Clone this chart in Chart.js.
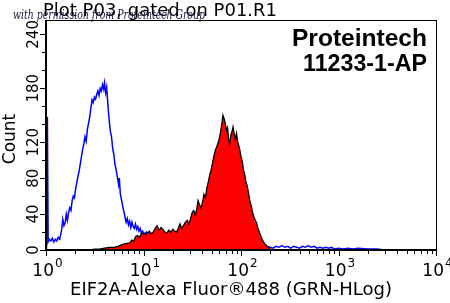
<!DOCTYPE html>
<html lang="en">
<head>
<meta charset="UTF-8">
<title>EIF2A flow histogram</title>
<style>
  html, body { margin: 0; padding: 0; background: #fff; }
  #wrap { position: relative; width: 450px; height: 303px; }
</style>
<script src="https://cdn.jsdelivr.net/npm/chart.js"></script>
</head>
<body>
<div id="wrap"><canvas id="histo"></canvas></div>
<script>
// values; x positions are in decades (log10 of intensity)
const blueDecades = [0.005, 0.014, 0.022, 0.035, 0.050, 0.065, 0.080, 0.095, 0.110, 0.125, 0.140, 0.160,
  0.172, 0.184, 0.196, 0.208, 0.220, 0.232, 0.244, 0.256, 0.268, 0.280, 0.292, 0.304, 0.316, 0.328,
  0.340, 0.352, 0.364, 0.376, 0.388, 0.400, 0.412, 0.424, 0.436, 0.448, 0.460, 0.472, 0.484, 0.496,
  0.508, 0.520, 0.532, 0.544, 0.556, 0.568, 0.580, 0.592, 0.600, 0.612, 0.622, 0.632, 0.642, 0.652,
  0.662, 0.672, 0.684, 0.696, 0.708, 0.720, 0.732, 0.744, 0.752, 0.762, 0.774, 0.786, 0.798, 0.810,
  0.822, 0.834, 0.846, 0.858, 0.870, 0.882, 0.894, 0.906, 0.918, 0.930, 0.942, 0.954, 0.966, 0.978,
  0.990, 1.010, 1.030, 1.050, 1.070, 1.090, 1.110, 1.130, 1.160, 1.190, 1.220, 1.250, 1.280, 1.320,
  1.360, 1.400, 1.450, 1.500, 1.600, 1.700, 1.800, 1.900, 2.000, 2.100, 2.200, 2.270, 2.300, 2.330,
  2.360, 2.390, 2.420, 2.450, 2.480, 2.510, 2.540, 2.570, 2.600, 2.630, 2.660, 2.690, 2.720, 2.750,
  2.780, 2.810, 2.840, 2.870, 2.900, 2.930, 2.960, 3.000, 3.050, 3.100, 3.150, 3.200, 3.300, 3.400, 3.460];
const blueCounts = [0, 148, 9, 12, 10, 13, 9, 12, 10, 14, 12, 22,
  34, 27, 30, 40, 33, 42, 47, 44, 55, 60, 58, 68, 75, 82,
  88, 96, 104, 112, 118, 126, 121, 134, 141, 148, 158, 167, 164, 170,
  168, 173, 177, 172, 180, 177, 184, 179, 186, 175, 181, 166, 152, 140,
  131, 126, 113, 106, 95, 89, 81, 73, 80, 63, 56, 49, 43, 37,
  31, 35, 28, 32, 25, 31, 26, 24, 29, 23, 26, 21, 24, 19,
  21, 18, 20, 15, 16, 13, 14, 11, 10, 8, 8, 6, 6, 5,
  4, 5, 3, 4, 3, 4, 3, 4, 3, 4, 3, 4, 3, 2,
  4, 3, 5, 3, 4, 2, 4, 3, 2, 4, 3, 5, 3, 4,
  2, 3, 2, 3, 2, 3, 1, 2, 1, 2, 1, 2, 1, 1, 0];

const redDecades = [0.450, 0.500, 0.550, 0.600, 0.650, 0.700, 0.740, 0.780, 0.820, 0.860, 0.880, 0.900,
  0.920, 0.940, 0.960, 0.980, 1.000, 1.020, 1.040, 1.060, 1.080, 1.100, 1.120, 1.140, 1.160, 1.180,
  1.200, 1.220, 1.240, 1.260, 1.280, 1.300, 1.320, 1.340, 1.360, 1.375, 1.390, 1.410, 1.430, 1.450,
  1.465, 1.480, 1.500, 1.515, 1.530, 1.545, 1.560, 1.575, 1.590, 1.605, 1.620, 1.635, 1.650, 1.665,
  1.680, 1.695, 1.710, 1.725, 1.740, 1.755, 1.770, 1.785, 1.800, 1.815, 1.828, 1.840, 1.852, 1.862,
  1.872, 1.884, 1.896, 1.908, 1.918, 1.930, 1.942, 1.954, 1.966, 1.978, 1.990, 2.002, 2.014, 2.026,
  2.038, 2.050, 2.062, 2.076, 2.090, 2.104, 2.118, 2.132, 2.146, 2.160, 2.174, 2.188, 2.202, 2.216,
  2.230, 2.244, 2.260, 2.280, 2.300, 2.320];
const redCounts = [0, 1, 1, 2, 3, 3, 4, 6, 7, 8, 11, 10,
  15, 16, 14, 19, 18, 17, 19, 21, 18, 20, 24, 27, 22, 25,
  23, 20, 19, 22, 20, 23, 21, 20, 25, 29, 24, 27, 31, 33,
  29, 34, 42, 44, 39, 45, 55, 50, 47, 53, 62, 58, 69, 76,
  84, 90, 98, 106, 112, 116, 121, 128, 138, 150, 146, 140, 133, 136,
  124, 118, 128, 132, 137, 129, 124, 130, 120, 116, 110, 103, 98, 89,
  84, 76, 72, 64, 55, 50, 42, 37, 33, 30, 24, 20, 16, 12,
  9, 7, 5, 3, 1, 0];

const xDecadeTicks = [1, 10, 100, 1000, 10000];
const xDecadeExponents = ['0', '1', '2', '3', '4'];
const yTickValues = [0, 20, 40, 60, 80, 100, 120, 140, 160, 180, 200, 220, 240];
const yLabelValues = [0, 40, 80, 120, 180, 240];
const yMax = 256;

const plotTitle = 'Plot P03, gated on P01.R1';
const watermark = 'with permission from Proteintech Group';
const brandLines = ['Proteintech', '11233-1-AP'];
const xTitle = 'EIF2A-Alexa Fluor\u00AE488 (GRN-HLog)';
const yTitle = 'Count';

function toPoints(decades, counts) {
  return decades.map((d, i) => ({ x: Math.pow(10, d), y: counts[i] }));
}

// draw text squeezed/stretched to a given width, starting at x
function fitText(ctx, str, x, y, width) {
  const w = ctx.measureText(str).width;
  ctx.save();
  ctx.translate(x, y);
  ctx.scale(width / w, 1);
  ctx.textAlign = 'left';
  ctx.fillText(str, 0, 0);
  ctx.restore();
}

const decorations = {
  id: 'decorations',
  afterDraw(chart) {
    const { ctx, chartArea: a, scales: { x, y } } = chart;
    ctx.save();
    ctx.strokeStyle = '#000';
    ctx.fillStyle = '#000';

    // thin frame, heavier left/bottom axes
    ctx.lineWidth = 1;
    ctx.strokeRect(a.left + 0.5, a.top + 0.5, a.right - a.left, a.bottom - a.top);
    ctx.lineWidth = 2;
    ctx.beginPath();
    ctx.moveTo(a.left, a.top);
    ctx.lineTo(a.left, a.bottom);
    ctx.lineTo(a.right + 1, a.bottom);
    ctx.stroke();

    // tick marks
    ctx.lineWidth = 1;
    ctx.beginPath();
    x.ticks.forEach(t => {
      const px = Math.round(x.getPixelForValue(t.value)) + 0.5;
      ctx.moveTo(px, a.bottom);
      ctx.lineTo(px, a.bottom + (t.major ? 6 : 4));
    });
    y.ticks.forEach(t => {
      const py = Math.round(y.getPixelForValue(t.value)) + 0.5;
      ctx.moveTo(a.left, py);
      ctx.lineTo(a.left - (yLabelValues.includes(t.value) ? 6 : 4), py);
    });
    ctx.stroke();

    // x tick labels: 10 with a raised exponent
    ctx.textBaseline = 'alphabetic';
    xDecadeTicks.forEach((v, i) => {
      const px = x.getPixelForValue(v);
      ctx.font = '17px "DejaVu Sans"';
      const wBase = ctx.measureText('10').width;
      ctx.font = '12px "DejaVu Sans"';
      const wExp = ctx.measureText(xDecadeExponents[i]).width;
      const left = px - (wBase + wExp) / 2 + 1;
      ctx.textAlign = 'left';
      ctx.font = '17px "DejaVu Sans"';
      ctx.fillText('10', left, 276);
      ctx.font = '12px "DejaVu Sans"';
      ctx.fillText(xDecadeExponents[i], left + wBase + 1, 267);
    });

    // y tick labels, turned to read upwards
    ctx.font = '15px "DejaVu Sans"';
    ctx.textAlign = 'center';
    ctx.textBaseline = 'middle';
    yLabelValues.forEach(v => {
      const py = y.getPixelForValue(v);
      ctx.save();
      ctx.translate(34, py);
      ctx.rotate(-Math.PI / 2);
      ctx.fillText(String(v), 0, 0);
      ctx.restore();
    });

    // axis titles
    ctx.save();
    ctx.font = '17px "DejaVu Sans"';
    ctx.translate(11, 139);
    ctx.rotate(-Math.PI / 2);
    ctx.fillText(yTitle, 0, 0);
    ctx.restore();

    ctx.textBaseline = 'alphabetic';
    ctx.font = '17px "DejaVu Sans"';
    fitText(ctx, xTitle, 70, 295, 322);

    // header
    ctx.font = '17px "DejaVu Sans"';
    fitText(ctx, plotTitle, 43, 16, 234);

    ctx.font = 'italic 12px "DejaVu Serif"';
    ctx.fillStyle = '#14143c';
    fitText(ctx, watermark, 13, 19, 192);

    // brand box text
    ctx.fillStyle = '#000';
    ctx.font = 'bold 23px "Liberation Sans"';
    fitText(ctx, brandLines[0], 292, 46, 135);
    fitText(ctx, brandLines[1], 303, 71, 124);

    ctx.restore();
  }
};

new Chart(document.getElementById('histo'), {
  type: 'line',
  data: {
    datasets: [
      {
        label: 'EIF2A',
        data: toPoints(redDecades, redCounts),
        borderColor: '#000',
        borderWidth: 1.3,
        backgroundColor: '#ff0000',
        fill: 'origin',
        pointRadius: 0,
        tension: 0
      },
      {
        label: 'Control',
        data: toPoints(blueDecades, blueCounts),
        borderColor: '#0000ff',
        borderWidth: 1.5,
        fill: false,
        pointRadius: 0,
        tension: 0
      }
    ]
  },
  options: {
    responsive: true,
    maintainAspectRatio: false,
    animation: false,
    events: [],
    layout: { padding: { top: 20, right: 14, left: 0, bottom: 0 } },
    plugins: {
      legend: { display: false },
      tooltip: { enabled: false }
    },
    scales: {
      x: {
        type: 'logarithmic',
        min: 1,
        max: 10000,
        grid: { display: false },
        border: { display: false },
        ticks: { display: false },
        afterBuildTicks: scale => {
          const ticks = [];
          xDecadeTicks.forEach((d, i) => {
            ticks.push({ value: d, major: true });
            if (i < xDecadeTicks.length - 1) {
              for (let m = 2; m < 10; m++) ticks.push({ value: d * m, major: false });
            }
          });
          scale.ticks = ticks;
        },
        afterFit: scale => { scale.height = 53; }
      },
      y: {
        min: 0,
        max: yMax,
        grid: { display: false },
        border: { display: false },
        ticks: { display: false },
        afterBuildTicks: scale => {
          scale.ticks = yTickValues.map(v => ({ value: v }));
        },
        afterFit: scale => { scale.width = 46; }
      }
    }
  },
  plugins: [decorations]
});
</script>
</body>
</html>
